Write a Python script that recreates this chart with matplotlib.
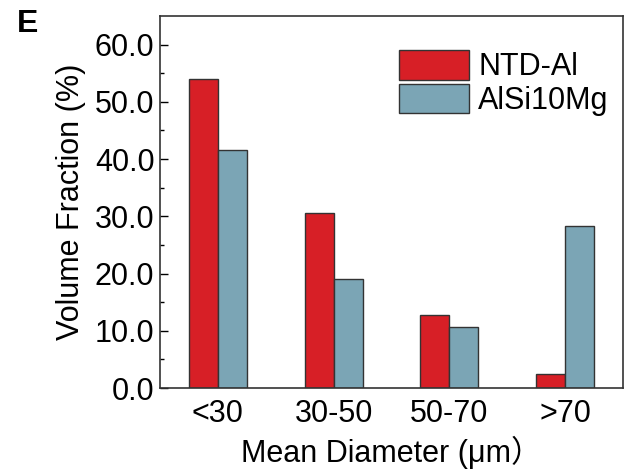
import matplotlib.pyplot as plt
import numpy as np

plt.rcParams['font.family'] = ['Liberation Sans', 'Noto Sans CJK SC', 'DejaVu Sans']

# data
categories = ['<30', '30-50', '50-70', '>70']
ntd_al = [54.0, 30.5, 12.8, 2.4]
alsi10mg = [41.6, 19.0, 10.6, 28.3]
series_names = ['NTD-Al', 'AlSi10Mg']
y_ticks = [0, 10, 20, 30, 40, 50, 60]

fig = plt.figure(figsize=(6.34, 4.74), dpi=100)
ax = fig.add_axes([160 / 634, 1 - 388 / 474, (623 - 160) / 634, (388 - 16) / 474])

x = np.arange(len(categories))
w = 0.25
ax.bar(x - w / 2, ntd_al, w, color='#D71F26', edgecolor='#333333', linewidth=1.0,
       label=series_names[0])
ax.bar(x + w / 2, alsi10mg, w, color='#7BA5B5', edgecolor='#333333', linewidth=1.0,
       label=series_names[1])

ax.set_xlim(-0.5, 3.5)
ax.set_ylim(0, 65)
ax.set_xticks(x)
ax.set_xticklabels(categories)
ax.set_yticks(y_ticks)
ax.set_yticklabels([f'{v:.1f}' for v in y_ticks])
ax.set_yticks(np.arange(5, 65, 10), minor=True)
ax.tick_params(axis='y', which='major', direction='in', length=6, width=1, labelsize=22, pad=4)
ax.tick_params(axis='y', which='minor', direction='in', length=3, width=1)
ax.tick_params(axis='x', length=0, labelsize=22, pad=8)
for s in ax.spines.values():
    s.set_linewidth(1.2)
    s.set_color('#333333')

ax.set_xlabel('Mean Diameter (μm）', fontsize=22, labelpad=5)
ax.set_ylabel('Volume Fraction (%)', fontsize=22, labelpad=6)

ax.legend(loc='upper right', fontsize=22, frameon=False, handlelength=2.3,
          handleheight=1.1, handletextpad=0.3, labelspacing=0.05,
          bbox_to_anchor=(1.015, 0.965), borderaxespad=0.3)

fig.text(17 / 634, 1 - 32 / 474, 'E', fontsize=23, fontweight='bold')

plt.savefig('out.png', dpi=100)
plt.close()
